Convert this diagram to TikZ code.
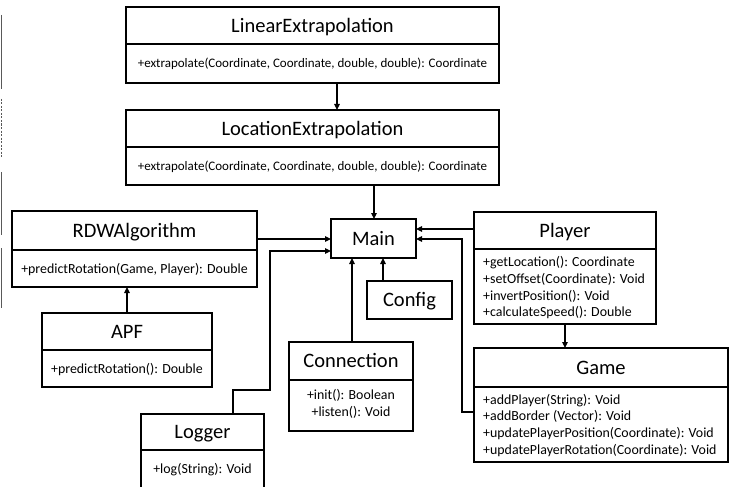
\documentclass[tikz,border=0pt]{standalone}
\usepackage{fontspec}
\setmainfont{Carlito}
\usetikzlibrary{arrows.meta,fit}
\tikzset{
  clsbox/.style={draw, line width=1.5pt, inner sep=0pt, outer sep=0pt},
  divider/.style={line width=1.5pt},
  arr/.style={line width=1.2pt, -{Triangle[length=6pt,width=5.5pt]}},
  ttl/.style={anchor=base, inner sep=0pt, font=\fontsize{20.5}{24}\selectfont},
  mth/.style={anchor=base, inner sep=0pt, font=\fontsize{13.9}{16.7}\selectfont},
  mths/.style={anchor=base, inner sep=0pt, font=\fontsize{13}{15.6}\selectfont},
  mthl/.style={anchor=base west, inner sep=0pt, font=\fontsize{13.9}{16.7}\selectfont},
  edge/.style={draw=black!65, line width=0.9pt}
}
\begin{document}
\begin{tikzpicture}[x=1pt,y=-1pt]
\useasboundingbox (0,0) rectangle (729,487);
\clip (0,0) rectangle (729,487);
\fill[white] (0,0) rectangle (729,487);

% left edge remnants
\draw[edge] (1,15) -- (1,89);
\draw[edge, dash pattern=on 2pt off 1.5pt] (1,99) -- (1,158);
\draw[edge] (1,172) -- (1,235);
\draw[edge] (1,248) -- (1,308);

% LinearExtrapolation
\node[clsbox, fit={(126,7) (499,83)}] (lin) {};
\draw[divider] (126,44) -- (499,44);
\node[ttl] (linT) at (312.5,32.2) {LinearExtrapolation};
\node[mths] (linM) at (312.5,67.8) {+extrapolate(Coordinate, Coordinate, double, double): Coordinate};

% LocationExtrapolation
\node[clsbox, fit={(126,110) (499,185)}] (loc) {};
\draw[divider] (126,147) -- (499,147);
\node[ttl] (locT) at (312.5,135.2) {LocationExtrapolation};
\node[mths] (locM) at (312.5,170.2) {+extrapolate(Coordinate, Coordinate, double, double): Coordinate};

% RDWAlgorithm
\node[clsbox, fit={(12,211) (257,287)}] (rdw) {};
\draw[divider] (12,250) -- (257,250);
\node[ttl] (rdwT) at (134.5,237.2) {RDWAlgorithm};
\node[mth] (rdwM) at (134.5,273) {+predictRotation(Game, Player): Double};

% APF
\node[clsbox, fit={(42,313) (212,387)}] (apf) {};
\draw[divider] (42,350) -- (212,350);
\node[ttl] (apfT) at (127,338.2) {APF};
\node[mth] (apfM) at (127,373) {+predictRotation(): Double};

% Main
\node[clsbox, fit={(331,219) (416,258)}] (main) {};
\node[ttl] (mainT) at (373.5,245.1) {Main};

% Config
\node[clsbox, fit={(367,281) (452,319)}] (config) {};
\node[ttl] (configT) at (409.5,306.6) {Config};

% Connection
\node[clsbox, fit={(289,342) (413,431)}] (conn) {};
\draw[divider] (289,380) -- (413,380);
\node[ttl] (connT) at (351,367.6) {Connection};
\node[mth] (connM1) at (351,399.5) {+init(): Boolean};
\node[mth] (connM2) at (351,416.2) {+listen(): Void};

% Player
\node[clsbox, fit={(474,212) (656,324)}] (player) {};
\draw[divider] (474,249) -- (656,249);
\node[ttl] (playerT) at (565,237.2) {Player};
\node[mthl] (playerM1) at (483,266.7) {+getLocation(): Coordinate};
\node[mthl] (playerM2) at (483,283.4) {+setOffset(Coordinate): Void};
\node[mthl] (playerM3) at (483,300.1) {+invertPosition(): Void};
\node[mthl] (playerM4) at (483,316.8) {+calculateSpeed(): Double};

% Game
\node[clsbox, fit={(474,348) (728,462)}] (game) {};
\draw[divider] (474,387) -- (728,387);
\node[ttl] (gameT) at (601,374.2) {Game};
\node[mthl] (gameM1) at (483,404) {+addPlayer(String): Void};
\node[mthl] (gameM2) at (483,420.7) {+addBorder (Vector): Void};
\node[mthl] (gameM3) at (483,437.4) {+updatePlayerPosition(Coordinate): Void};
\node[mthl] (gameM4) at (483,454.1) {+updatePlayerRotation(Coordinate): Void};

% Logger
\node[clsbox, fit={(141,414) (264,500)}] (logger) {};
\draw[divider] (141,450) -- (264,450);
\node[ttl] (loggerT) at (202.5,438.6) {Logger};
\node[mth] (loggerM) at (202.5,473.5) {+log(String): Void};

% connectors
\draw[arr] (lin.south -| 337,0) -- (loc.north -| 337,0);
\draw[arr] (loc.south -| 374,0) -- (main.north -| 374,0);
\draw[arr] (rdw.east |- 0,239) -- (main.west |- 0,239);
\draw[arr] (logger.north -| 233,0) -- (233,390) -- (270,390) -- (270,251) -- (main.west |- 0,251);
\draw[arr] (apf.north -| 127,0) -- (rdw.south -| 127,0);
\draw[arr] (config.north -| 383,0) -- (main.south -| 383,0);
\draw[arr] (conn.north -| 352,0) -- (main.south -| 352,0);
\draw[arr] (player.west |- 0,229) -- (main.east |- 0,229);
\draw[arr] (game.west |- 0,412) -- (462,412) -- (462,239) -- (main.east |- 0,239);
\draw[arr] (player.south -| 565,0) -- (game.north -| 565,0);
\end{tikzpicture}
\end{document}
